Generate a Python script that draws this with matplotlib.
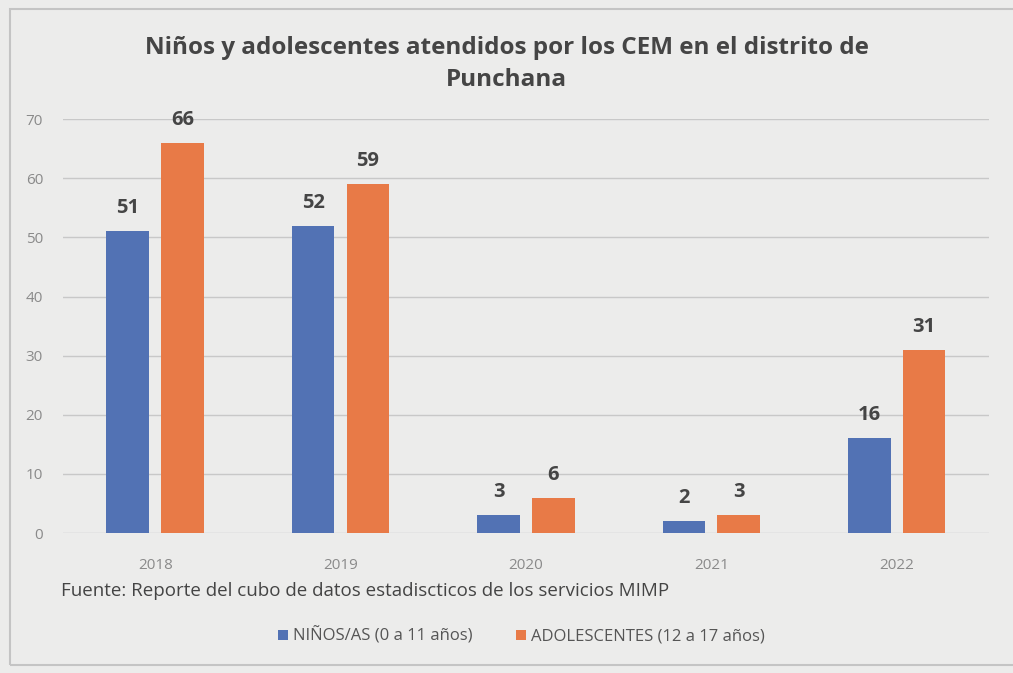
import matplotlib.pyplot as plt
import matplotlib.patches as mpatches
import numpy as np

years = ['2018', '2019', '2020', '2021', '2022']
ninos = [51, 52, 3, 2, 16]
adolescentes = [66, 59, 6, 3, 31]
series_names = ['NIÑOS/AS (0 a 11 años)', 'ADOLESCENTES (12 a 17 años)']
yticks = [0, 10, 20, 30, 40, 50, 60, 70]

blue = '#5272b4'
orange = '#e87a47'
bg = '#ececeb'

plt.rcParams['font.family'] = ['Open Sans', 'DejaVu Sans']

fig = plt.figure(figsize=(10.13, 6.73), dpi=100, facecolor=bg)
ax = fig.add_axes([0.0617, 0.208, 0.915, 0.615])
ax.set_facecolor(bg)

# outer frame of the chart box
fig.patches.append(mpatches.Rectangle((0.010, 0.012), 1.2, 0.975, transform=fig.transFigure,
                                      fill=False, edgecolor='#c4c4c4', lw=1.5))

x = np.arange(len(years))
w = 0.23
b1 = ax.bar(x - 0.148, ninos, w, color=blue, label=series_names[0], zorder=3)
b2 = ax.bar(x + 0.148, adolescentes, w, color=orange, label=series_names[1], zorder=3)

for bars, vals in ((b1, ninos), (b2, adolescentes)):
    for r, v in zip(bars, vals):
        ax.text(r.get_x() + r.get_width() / 2, v + 2.2, str(v), ha='center', va='bottom',
                fontsize=14.5, fontweight='bold', color='#454545')

ax.set_xlim(-0.5, len(years) - 0.5)
ax.set_ylim(0, 70)
ax.set_yticks(yticks)
ax.set_xticks(x)
ax.set_xticklabels(years)
ax.tick_params(axis='both', length=0, labelsize=11, labelcolor='#8a8a8a')
ax.tick_params(axis='y', pad=14)
ax.tick_params(axis='x', pad=18)
ax.grid(axis='y', color='#c8c8c8', lw=1, zorder=0)
for s in ax.spines.values():
    s.set_visible(False)

fig.text(0.5, 0.905, 'Niños y adolescentes atendidos por los CEM en el distrito de\nPunchana',
         ha='center', va='center', fontsize=17.5, fontweight='bold', color='#454545',
         linespacing=1.4)

fig.text(0.060, 0.122, 'Fuente: Reporte del cubo de datos estadiscticos de los servicios MIMP',
         ha='left', va='center', fontsize=13.5, color='#444444')

fig.legend(handles=[b1, b2], labels=series_names, loc='center', bbox_to_anchor=(0.515, 0.055),
           ncol=2, frameon=False, fontsize=12, handlelength=0.6, handleheight=0.6,
           columnspacing=2.6, handletextpad=0.3, labelcolor='#555555')

fig.savefig('out.png', dpi=100, facecolor=bg)
